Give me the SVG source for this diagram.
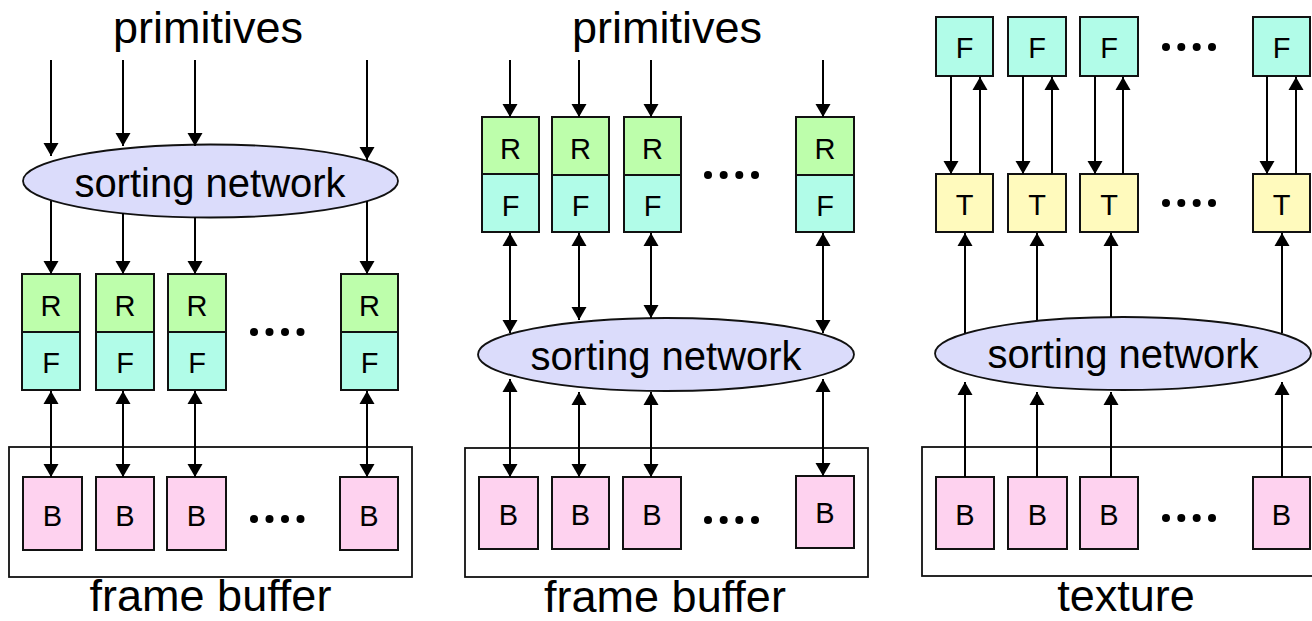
<svg xmlns="http://www.w3.org/2000/svg" width="1312" height="621" viewBox="0 0 1312 621">
  <defs>
    <style>
      text { font-family: "Liberation Sans", Arial, sans-serif; fill: #000; text-anchor: middle; }
      .title { font-size: 45px; }
      .net { font-size: 40px; }
      .lbl { font-size: 29px; }
      .box { stroke: #111; stroke-width: 2; }
      .R { fill: #bdfeab; }
      .F { fill: #b1fce8; }
      .B { fill: #fed2ef; }
      .T { fill: #fffabd; }
      .ell { fill: #dbdcfb; stroke: #111; stroke-width: 1.8; }
      .frame { fill: none; stroke: #111; stroke-width: 1.8; }
      .dot { fill: #000; }
      .c { stroke: #000; stroke-width: 2; fill: none; }
      .a { marker-end: url(#head); }
      .d { marker-start: url(#head); marker-end: url(#head); }
    </style>
    <marker id="head" markerUnits="userSpaceOnUse" markerWidth="16" markerHeight="16" viewBox="0 0 16 16" refX="14" refY="8" orient="auto-start-reverse">
      <path d="M1,0.5 L14,8 L1,15.5 Z" fill="#000"/>
    </marker>
  </defs>

  <!-- ===== Left: sort-first ===== -->
  <text id="l-prim" class="title" x="208" y="43">primitives</text>
  <g id="l-sort">
    <ellipse class="ell" cx="210.5" cy="181" rx="187.5" ry="36.5"/>
    <text class="net" x="210" y="197">sorting network</text>
  </g>
  <g id="l-rf1"><rect class="box R" x="22" y="274" width="58" height="58"/><rect class="box F" x="22" y="332" width="58" height="58"/><text class="lbl" x="51" y="316">R</text><text class="lbl" x="51" y="373">F</text></g>
  <g id="l-rf2"><rect class="box R" x="96" y="274" width="58" height="58"/><rect class="box F" x="96" y="332" width="58" height="58"/><text class="lbl" x="125" y="316">R</text><text class="lbl" x="125" y="373">F</text></g>
  <g id="l-rf3"><rect class="box R" x="168" y="274" width="58" height="58"/><rect class="box F" x="168" y="332" width="58" height="58"/><text class="lbl" x="197" y="316">R</text><text class="lbl" x="197" y="373">F</text></g>
  <g id="l-rfn"><rect class="box R" x="341" y="274" width="57" height="58"/><rect class="box F" x="341" y="332" width="57" height="58"/><text class="lbl" x="369.5" y="316">R</text><text class="lbl" x="369.5" y="373">F</text></g>
  <g id="l-rf-dots"><circle class="dot" cx="254" cy="332" r="4"/><circle class="dot" cx="269.5" cy="332" r="4"/><circle class="dot" cx="285" cy="332" r="4"/><circle class="dot" cx="300.5" cy="332" r="4"/></g>
  <g id="l-fb">
    <rect class="frame" x="9" y="447" width="403" height="130"/>
    <text class="title" x="210.5" y="611">frame buffer</text>
  </g>
  <g id="l-b1"><rect class="box B" x="23" y="477" width="59" height="73"/><text class="lbl" x="52.5" y="526">B</text></g>
  <g id="l-b2"><rect class="box B" x="96" y="477" width="58" height="73"/><text class="lbl" x="125" y="526">B</text></g>
  <g id="l-b3"><rect class="box B" x="167" y="477" width="59" height="73"/><text class="lbl" x="196.5" y="526">B</text></g>
  <g id="l-bn"><rect class="box B" x="340" y="477" width="58" height="73"/><text class="lbl" x="369" y="526">B</text></g>
  <g id="l-b-dots"><circle class="dot" cx="254" cy="519" r="4"/><circle class="dot" cx="269.5" cy="519" r="4"/><circle class="dot" cx="285" cy="519" r="4"/><circle class="dot" cx="300.5" cy="519" r="4"/></g>

  <!-- ===== Middle: sort-middle ===== -->
  <text id="m-prim" class="title" x="667" y="43">primitives</text>
  <g id="m-rf1"><rect class="box R" x="482" y="117" width="57" height="57"/><rect class="box F" x="482" y="174" width="57" height="58"/><text class="lbl" x="510.5" y="159">R</text><text class="lbl" x="510.5" y="216">F</text></g>
  <g id="m-rf2"><rect class="box R" x="552" y="117" width="57" height="58"/><rect class="box F" x="552" y="175" width="57" height="57"/><text class="lbl" x="580.5" y="159">R</text><text class="lbl" x="580.5" y="216">F</text></g>
  <g id="m-rf3"><rect class="box R" x="624" y="117" width="57" height="58"/><rect class="box F" x="624" y="175" width="57" height="57"/><text class="lbl" x="652.5" y="159">R</text><text class="lbl" x="652.5" y="216">F</text></g>
  <g id="m-rfn"><rect class="box R" x="796" y="117" width="58" height="58"/><rect class="box F" x="796" y="175" width="58" height="57"/><text class="lbl" x="825" y="159">R</text><text class="lbl" x="825" y="216">F</text></g>
  <g id="m-rf-dots"><circle class="dot" cx="708" cy="175" r="4"/><circle class="dot" cx="723.7" cy="175" r="4"/><circle class="dot" cx="739.3" cy="175" r="4"/><circle class="dot" cx="755" cy="175" r="4"/></g>
  <g id="m-sort">
    <ellipse class="ell" cx="666" cy="354.5" rx="188" ry="36.5"/>
    <text class="net" x="666" y="370">sorting network</text>
  </g>
  <g id="m-fb">
    <rect class="frame" x="465" y="448" width="403" height="129"/>
    <text class="title" x="665" y="612">frame buffer</text>
  </g>
  <g id="m-b1"><rect class="box B" x="479" y="477" width="59" height="72"/><text class="lbl" x="508.5" y="525">B</text></g>
  <g id="m-b2"><rect class="box B" x="552" y="477" width="57" height="72"/><text class="lbl" x="580.5" y="525">B</text></g>
  <g id="m-b3"><rect class="box B" x="623" y="477" width="58" height="72"/><text class="lbl" x="652" y="525">B</text></g>
  <g id="m-bn"><rect class="box B" x="796" y="476" width="58" height="72"/><text class="lbl" x="825" y="523">B</text></g>
  <g id="m-b-dots"><circle class="dot" cx="708" cy="520" r="4"/><circle class="dot" cx="723.7" cy="520" r="4"/><circle class="dot" cx="739.3" cy="520" r="4"/><circle class="dot" cx="755" cy="520" r="4"/></g>

  <!-- ===== Right: texture units ===== -->
  <g id="r-f1"><rect class="box F" x="936" y="17" width="57" height="59"/><text class="lbl" x="964.5" y="58">F</text></g>
  <g id="r-f2"><rect class="box F" x="1008" y="17" width="58" height="59"/><text class="lbl" x="1037" y="58">F</text></g>
  <g id="r-f3"><rect class="box F" x="1080" y="17" width="58" height="59"/><text class="lbl" x="1109" y="58">F</text></g>
  <g id="r-fn"><rect class="box F" x="1253" y="17" width="57" height="59"/><text class="lbl" x="1281.5" y="58">F</text></g>
  <g id="r-f-dots"><circle class="dot" cx="1166" cy="47" r="4"/><circle class="dot" cx="1181.3" cy="47" r="4"/><circle class="dot" cx="1196.7" cy="47" r="4"/><circle class="dot" cx="1212" cy="47" r="4"/></g>
  <g id="r-t1"><rect class="box T" x="936" y="174" width="57" height="58"/><text class="lbl" x="964.5" y="215">T</text></g>
  <g id="r-t2"><rect class="box T" x="1008" y="174" width="58" height="58"/><text class="lbl" x="1037" y="215">T</text></g>
  <g id="r-t3"><rect class="box T" x="1080" y="174" width="58" height="58"/><text class="lbl" x="1109" y="215">T</text></g>
  <g id="r-tn"><rect class="box T" x="1253" y="174" width="57" height="58"/><text class="lbl" x="1281.5" y="215">T</text></g>
  <g id="r-t-dots"><circle class="dot" cx="1166" cy="203" r="4"/><circle class="dot" cx="1181.3" cy="203" r="4"/><circle class="dot" cx="1196.7" cy="203" r="4"/><circle class="dot" cx="1212" cy="203" r="4"/></g>
  <g id="r-sort">
    <ellipse class="ell" cx="1123" cy="353.5" rx="188" ry="36.5"/>
    <text class="net" x="1123" y="368">sorting network</text>
  </g>
  <g id="r-tex">
    <rect class="frame" x="922" y="447" width="400" height="129"/>
    <text class="title" x="1126" y="611">texture</text>
  </g>
  <g id="r-b1"><rect class="box B" x="936" y="477" width="58" height="72"/><text class="lbl" x="965" y="525">B</text></g>
  <g id="r-b2"><rect class="box B" x="1008" y="477" width="59" height="72"/><text class="lbl" x="1037.5" y="525">B</text></g>
  <g id="r-b3"><rect class="box B" x="1080" y="477" width="58" height="72"/><text class="lbl" x="1109" y="525">B</text></g>
  <g id="r-bn"><rect class="box B" x="1253" y="477" width="57" height="72"/><text class="lbl" x="1281.5" y="525">B</text></g>
  <g id="r-b-dots"><circle class="dot" cx="1166" cy="518" r="4"/><circle class="dot" cx="1181.3" cy="518" r="4"/><circle class="dot" cx="1196.7" cy="518" r="4"/><circle class="dot" cx="1212" cy="518" r="4"/></g>

  <!-- ===== Connectors ===== -->
  <g id="connectors">
    <!-- left: primitives into sorting network -->
    <line class="c a" x1="51" y1="60" x2="51" y2="156"/>
    <line class="c a" x1="123" y1="60" x2="123" y2="146"/>
    <line class="c a" x1="195" y1="60" x2="195" y2="146"/>
    <line class="c a" x1="367" y1="60" x2="367" y2="160"/>
    <!-- left: sorting network to rasterizers -->
    <line class="c a" x1="51" y1="201" x2="51" y2="274"/>
    <line class="c a" x1="123" y1="213" x2="123" y2="274"/>
    <line class="c a" x1="195" y1="217" x2="195" y2="274"/>
    <line class="c a" x1="367" y1="201" x2="367" y2="274"/>
    <!-- left: fragment units <-> frame buffer -->
    <line class="c d" x1="51" y1="391" x2="51" y2="477"/>
    <line class="c d" x1="123" y1="391" x2="123" y2="477"/>
    <line class="c d" x1="195" y1="391" x2="195" y2="477"/>
    <line class="c d" x1="367" y1="391" x2="367" y2="477"/>

    <!-- middle: primitives into rasterizers -->
    <line class="c a" x1="510" y1="60" x2="510" y2="117"/>
    <line class="c a" x1="579" y1="60" x2="579" y2="117"/>
    <line class="c a" x1="651" y1="60" x2="651" y2="117"/>
    <line class="c a" x1="823" y1="60" x2="823" y2="117"/>
    <!-- middle: fragment units <-> sorting network -->
    <line class="c d" x1="510" y1="233" x2="510" y2="333"/>
    <line class="c d" x1="579" y1="233" x2="579" y2="320"/>
    <line class="c d" x1="651" y1="233" x2="651" y2="318"/>
    <line class="c d" x1="823" y1="233" x2="823" y2="333"/>
    <!-- middle: sorting network <-> frame buffer -->
    <line class="c d" x1="510" y1="379" x2="510" y2="477"/>
    <line class="c d" x1="579" y1="392" x2="579" y2="477"/>
    <line class="c d" x1="651" y1="392" x2="651" y2="477"/>
    <line class="c d" x1="823" y1="379" x2="823" y2="476"/>

    <!-- right: fragment units -> texture units -->
    <line class="c a" x1="951" y1="76" x2="951" y2="174"/>
    <line class="c a" x1="1023" y1="76" x2="1023" y2="174"/>
    <line class="c a" x1="1095" y1="76" x2="1095" y2="174"/>
    <line class="c a" x1="1267" y1="76" x2="1267" y2="174"/>
    <!-- right: texture units -> fragment units -->
    <line class="c a" x1="980" y1="174" x2="980" y2="77"/>
    <line class="c a" x1="1052" y1="174" x2="1052" y2="77"/>
    <line class="c a" x1="1123" y1="174" x2="1123" y2="77"/>
    <line class="c a" x1="1296" y1="174" x2="1296" y2="77"/>
    <!-- right: sorting network -> texture units -->
    <line class="c a" x1="965" y1="333" x2="965" y2="233"/>
    <line class="c a" x1="1037" y1="320" x2="1037" y2="233"/>
    <line class="c a" x1="1111" y1="317" x2="1111" y2="233"/>
    <line class="c a" x1="1282" y1="333" x2="1282" y2="233"/>
    <!-- right: texture memory -> sorting network -->
    <line class="c a" x1="965" y1="477" x2="965" y2="382"/>
    <line class="c a" x1="1037" y1="477" x2="1037" y2="392"/>
    <line class="c a" x1="1111" y1="477" x2="1111" y2="392"/>
    <line class="c a" x1="1282" y1="477" x2="1282" y2="382"/>
  </g>
</svg>
